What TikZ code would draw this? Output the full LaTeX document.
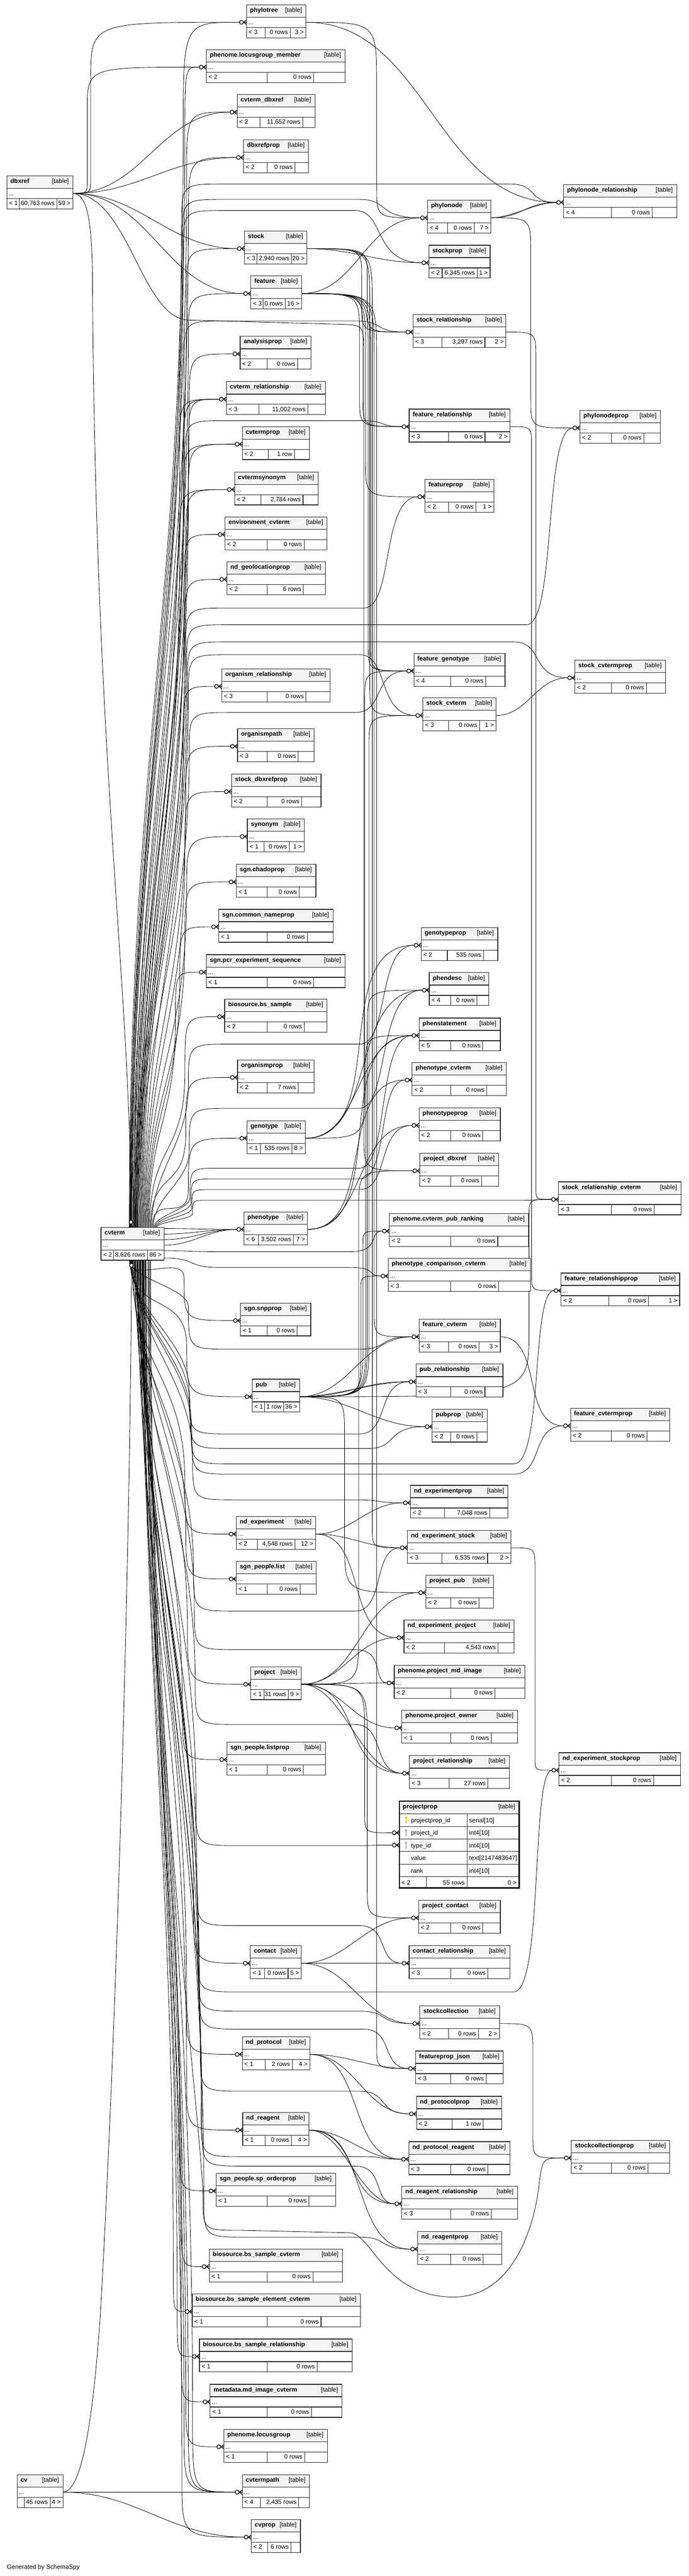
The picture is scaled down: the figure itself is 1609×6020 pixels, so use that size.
\documentclass[tikz,border=0pt]{standalone}
\usepackage{fontspec}
\setmainfont{Liberation Sans}
\usetikzlibrary{calc}
\pgfdeclarelayer{bg}
\pgfdeclarelayer{edges}
\pgfsetlayers{bg,edges,main}
\definecolor{hdr}{RGB}{244,244,244}
\definecolor{bord}{RGB}{40,40,40}
\definecolor{pkkey}{RGB}{225,215,0}
\definecolor{fkkey}{RGB}{185,185,185}
\tikzset{
  edge/.style={line width=1pt,black},
  tl/.style={line width=1.4pt,bord},
  tnode/.style={inner sep=0pt,outer sep=0pt,draw=none},
  txt/.style={inner sep=0pt,font={\fontsize{14.5pt}{17pt}\selectfont}},
  ttl/.style={inner sep=0pt,font={\fontsize{14.5pt}{17pt}\selectfont\bfseries}},
  mk/.style={line width=1.5pt,black},
}
\newcommand\myft[5]{\def\xfL{#1}\def\xfM{#2}\def\xfR{#3}\def\xdA{#4}\def\xdB{#5}}
\newcommand\mytbl[5]{%
  \pgfmathsetmacro\xtw{#4-#2}%
  \node[tnode,minimum width=\xtw pt,minimum height=77pt,anchor=north west] (#1) at (#2,#3) {};
  \coordinate (#1-m) at ([yshift=-41pt]#1.north west);
  \coordinate (#1-l) at ([xshift=-16.5pt,yshift=-41pt]#1.north west);
  \coordinate (#1-r) at ([yshift=-41pt]#1.north east);
  \fill[hdr] (#2,#3) rectangle (#4,{#3+29});
  \fill[white] (#2,{#3+29}) rectangle (#4,{#3+77});
  \draw[tl] (#2,{#3+29}) -- (#4,{#3+29}) (#2,{#3+53}) -- (#4,{#3+53})
     (\xdA,{#3+53}) -- (\xdA,{#3+77}) (\xdB,{#3+53}) -- (\xdB,{#3+77});
  \draw[tl] (#2,#3) rectangle (#4,{#3+77});
  \node[ttl,anchor=base west] (#1-n) at ({#2+8},{#3+17}) {#5};
  \node[txt,anchor=base east] (#1-t) at ({#4-9},{#3+17}) {[table]};
  \node[txt,anchor=base west] (#1-d) at ({#2+4},{#3+46}) {...};
  \node[txt,anchor=base west] (#1-a) at ({#2+5},{#3+69}) {\xfL};
  \node[txt,anchor=base east] (#1-b) at ({\xdB-5},{#3+69}) {\xfM};
  \node[txt,anchor=base east] (#1-c) at ({#4-5},{#3+69}) {\xfR};
}
% simple S edge
\newcommand\xeS[3][]{\draw[edge] (#2-r) to[out=0,in=180,#1] (#3-l);}
% channel edges
\newcommand\xeDn[3]{\draw[edge] let \p1=(#1-r),\p2=(#2-l),
  \n1={max(8,min(0.9*(#3pt-\x1),(\y1-\y2)/3))},
  \n2={max(8,min(0.7*(\x2-#3pt),(\y1-\y2)/3,160))} in
  (\p1) .. controls (#3pt,\y1) .. (#3pt,{\y1-\n1}) -- (#3pt,{\y2+\n2}) .. controls (#3pt,\y2) .. (\p2);}
\newcommand\xeUp[3]{\draw[edge] let \p1=(#1-r),\p2=(#2-l),
  \n1={max(8,min(0.9*(#3pt-\x1),(\y2-\y1)/3))},
  \n2={max(8,min(0.7*(\x2-#3pt),(\y2-\y1)/3,160))} in
  (\p1) .. controls (#3pt,\y1) .. (#3pt,{\y1+\n1}) -- (#3pt,{\y2-\n2}) .. controls (#3pt,\y2) .. (\p2);}
% cvterm up / down
\newcommand\xcU[4]{\draw[edge] let \p1=([xshift=#2pt]cvterm.north west),\p2=(#1-l),
  \n1={0.4*(\y2-\y1)} in
  (\p1) .. controls (\x1,{\y1+\n1}) and (#3pt,{\y2-#4pt-\n1}) .. (#3pt,{\y2-#4pt}) .. controls (#3pt,\y2) .. (\p2);}
\newcommand\xcUR[5]{\draw[edge] let \p1=([xshift=#2pt]cvterm.north west),\p2=(#1-l),
  \n2={min(100,(2868-#4)/2)},
  \n1={0.4*(-#4-\n2-\y1)} in
  (\p1) .. controls (\x1,{\y1+\n1}) and (#3pt,{-#4pt-\n2-\n1}) .. (#3pt,{-#4pt-\n2}) .. controls (#3pt,-#4pt) .. ({#3pt+\n2},-#4pt) -- (#5pt,-#4pt) .. controls ({#5pt+70pt},-#4pt) and ({#5pt+40pt},\y2) .. (\p2);}
\newcommand\xcD[4]{\draw[edge] let \p1=([xshift=#2pt]cvterm.south west),\p2=(#1-l),
  \n1={0.4*(\y1-\y2)} in
  (\p1) .. controls (\x1,{\y1-\n1}) and (#3pt,{\y2+#4pt+\n1}) .. (#3pt,{\y2+#4pt}) .. controls (#3pt,\y2) .. (\p2);}
\newcommand\xcDR[5]{\draw[edge] let \p1=([xshift=#2pt]cvterm.south west),\p2=(#1-l),
  \n2={min(100,(#4-2945)/2)},
  \n1={0.4*(\y1+#4-\n2)} in
  (\p1) .. controls (\x1,{\y1-\n1}) and (#3pt,{-#4pt+\n2+\n1}) .. (#3pt,{-#4pt+\n2}) .. controls (#3pt,-#4pt) .. ({#3pt+\n2},-#4pt) -- (#5pt,-#4pt) .. controls ({#5pt+70pt},-#4pt) and ({#5pt+40pt},\y2) .. (\p2);}
\newcommand\xeH[4]{\draw[edge] let \p1=(#1-r),\p2=(#2-l) in
  (\p1) .. controls ({\x1+80pt},\y1) and ({\x1+50pt},-#3pt) .. ({\x1+130pt},-#3pt) -- (#4pt,-#3pt) .. controls ({#4pt+70pt},-#3pt) and ({#4pt+40pt},\y2) .. (\p2);}
\newcommand\xmk[1]{%
  \draw[mk] ([xshift=-7pt]#1-m) -- ([yshift=5pt]#1-m)
            ([xshift=-7pt]#1-m) -- (#1-m)
            ([xshift=-7pt]#1-m) -- ([yshift=-5pt]#1-m);
  \draw[mk,fill=white] ([xshift=-12pt]#1-m) circle (4.5pt);}
\begin{document}
\begin{tikzpicture}[x=1pt,y=-1pt]
\useasboundingbox (0,0) rectangle (1609,6020);
\begin{pgfonlayer}{bg}
\fill[white] (0,0) rectangle (1609,6020);
\end{pgfonlayer}
% ---------------- tables ----------------
\myft{< 3}{0 rows}{3 >}{619}{678}\mytbl{phylotree}{576}{11}{715}{phylotree}
\myft{< 2}{0 rows}{}{624}{733}\mytbl{locgrpmem}{482}{116}{806}{phenome.locusgroup\_member}
\myft{< 2}{11,652 rows}{}{607}{707}\mytbl{cvtermdbxref}{554}{221}{736}{cvterm\_dbxref}
\myft{< 2}{0 rows}{}{624}{689}\mytbl{dbxrefprop}{569}{327}{721}{dbxrefprop}
\myft{< 1}{60,763 rows}{59 >}{45}{133}\mytbl{dbxref}{16}{411}{170}{dbxref}
\myft{< 4}{0 rows}{}{1429}{1524}\mytbl{phylonoderel}{1317}{432}{1581}{phylonode\_relationship}
\myft{< 4}{0 rows}{7 >}{1046}{1108}\mytbl{phylonode}{999}{468}{1147}{phylonode}
\myft{< 3}{2,940 rows}{20 >}{600}{681}\mytbl{stock}{571}{540}{717}{stock}
\myft{< 2}{6,345 rows}{1 >}{1033}{1115}\mytbl{stockprop}{1002}{573}{1145}{stockprop}
\myft{< 3}{0 rows}{16 >}{615}{666}\mytbl{feature}{586}{645}{705}{feature}
\myft{< 3}{3,297 rows}{2 >}{1032}{1133}\mytbl{stockrel}{965}{735}{1182}{stock\_relationship}
\myft{< 2}{0 rows}{}{624}{695}\mytbl{analysisprop}{561}{786}{727}{analysisprop}
\myft{< 3}{11,002 rows}{}{605}{719}\mytbl{cvtermrel}{529}{892}{760}{cvterm\_relationship}
\myft{< 3}{0 rows}{2 >}{1048}{1133}\mytbl{featurerel}{956}{956}{1191}{feature\_relationship}
\myft{< 2}{0 rows}{}{1429}{1504}\mytbl{phylonodeprop}{1355}{959}{1543}{phylonodeprop}
\myft{< 2}{1 row}{}{627}{688}\mytbl{cvtermprop}{566}{997}{723}{cvtermprop}
\myft{< 2}{2,784 rows}{}{610}{708}\mytbl{cvtermsynonym}{548}{1103}{743}{cvtermsynonym}
\myft{< 2}{0 rows}{1 >}{1048}{1112}\mytbl{featureprop}{993}{1120}{1154}{featureprop}
\myft{< 2}{0 rows}{}{624}{711}\mytbl{envcvterm}{526}{1208}{764}{environment\_cvterm}
\myft{< 2}{6 rows}{}{624}{709}\mytbl{ndgeoprop}{530}{1313}{760}{nd\_geolocationprop}
\myft{< 4}{0 rows}{}{1053}{1135}\mytbl{featgeno}{967}{1527}{1180}{feature\_genotype}
\myft{< 2}{0 rows}{}{1429}{1510}\mytbl{stockcvtermprop}{1343}{1543}{1555}{stock\_cvtermprop}
\myft{< 3}{0 rows}{}{624}{715}\mytbl{orgrel}{518}{1563}{771}{organism\_relationship}
\myft{< 3}{0 rows}{1 >}{1048}{1120}\mytbl{stockcvterm}{988}{1631}{1159}{stock\_cvterm}
\myft{< 3}{0 rows}{}{624}{697}\mytbl{organismpath}{555}{1703}{734}{organismpath}
\myft{< 2}{0 rows}{}{624}{705}\mytbl{stockdbxrefprop}{541}{1809}{750}{stock\_dbxrefprop}
\myft{< 1}{0 rows}{1 >}{617}{676}\mytbl{synonym}{578}{1914}{711}{synonym}
\myft{< 1}{0 rows}{}{624}{699}\mytbl{chadoprop}{552}{2020}{738}{sgn.chadoprop}
\myft{< 1}{0 rows}{}{624}{718}\mytbl{commonnameprop}{511}{2125}{778}{sgn.common\_nameprop}
\myft{< 1}{0 rows}{}{624}{733}\mytbl{pcrexpseq}{482}{2231}{806}{sgn.pcr\_experiment\_sequence}
\myft{< 2}{535 rows}{}{1045}{1130}\mytbl{genotypeprop}{984}{2168}{1163}{genotypeprop}
\myft{< 4}{0 rows}{}{1053}{1114}\mytbl{phendesc}{1003}{2273}{1142}{phendesc}
\myft{< 2}{0 rows}{}{624}{711}\mytbl{bssample}{525}{2335}{764}{biosource.bs\_sample}
\myft{< 5}{0 rows}{}{1053}{1128}\mytbl{phenstatement}{979}{2379}{1169}{phenstatement}
\myft{< 2}{7 rows}{}{624}{697}\mytbl{organismprop}{555}{2477}{734}{organismprop}
\myft{< 2}{0 rows}{}{1053}{1137}\mytbl{phenotypecvterm}{963}{2483}{1183}{phenotype\_cvterm}
\myft{< 1}{535 rows}{8 >}{609}{682}\mytbl{genotype}{577}{2619}{713}{genotype}
\myft{< 2}{0 rows}{}{1053}{1128}\mytbl{phenotypeprop}{979}{2589}{1169}{phenotypeprop}
\myft{< 2}{0 rows}{}{1053}{1125}\mytbl{projectdbxref}{981}{2695}{1165}{project\_dbxref}
\myft{< 3}{0 rows}{}{1429}{1528}\mytbl{stockrelcvterm}{1305}{2762}{1591}{stock\_relationship\_cvterm}
\myft{< 6}{3,502 rows}{7 >}{604}{686}\mytbl{phenotype}{570}{2832}{718}{phenotype}
\myft{< 2}{8,626 rows}{86 >}{265}{345}\mytbl{cvterm}{236}{2868}{383}{cvterm}
\myft{< 2}{0 rows}{}{1053}{1163}\mytbl{cvtermpubrank}{910}{2836}{1235}{phenome.cvterm\_pub\_ranking}
\myft{< 3}{0 rows}{}{1053}{1165}\mytbl{phenocompcvterm}{907}{2941}{1239}{phenotype\_comparison\_cvterm}
\myft{< 2}{0 rows}{1 >}{1423}{1515}\mytbl{featurerelprop}{1311}{2975}{1588}{feature\_relationshipprop}
\myft{< 1}{0 rows}{}{624}{694}\mytbl{snpprop}{562}{3045}{726}{sgn.snpprop}
\myft{< 3}{0 rows}{3 >}{1048}{1119}\mytbl{featurecvterm}{979}{3083}{1169}{feature\_cvterm}
\myft{< 3}{0 rows}{}{1053}{1133}\mytbl{pubrel}{972}{3188}{1175}{pub\_relationship}
\myft{< 1}{1 row}{36 >}{618}{663}\mytbl{pub}{589}{3223}{700}{pub}
\myft{< 2}{0 rows}{}{1053}{1114}\mytbl{pubprop}{1010}{3293}{1138}{pubprop}
\myft{< 2}{0 rows}{}{1429}{1512}\mytbl{featurecvtermprop}{1333}{3291}{1565}{feature\_cvtermprop}
\myft{< 2}{7,048 rows}{}{1038}{1144}\mytbl{ndexpprop}{959}{3471}{1187}{nd\_experimentprop}
\myft{< 2}{4,548 rows}{12 >}{601}{689}\mytbl{ndexp}{552}{3544}{737}{nd\_experiment}
\myft{< 3}{6,535 rows}{2 >}{1032}{1139}\mytbl{ndexpstock}{952}{3576}{1194}{nd\_experiment\_stock}
\myft{< 1}{0 rows}{}{624}{701}\mytbl{peoplelist}{552}{3649}{739}{sgn\_people.list}
\myft{< 2}{0 rows}{}{1053}{1119}\mytbl{projectpub}{995}{3681}{1153}{project\_pub}
\myft{< 2}{4,543 rows}{}{1038}{1164}\mytbl{ndexpproject}{944}{3786}{1201}{nd\_experiment\_project}
\myft{< 1}{31 rows}{9 >}{617}{674}\mytbl{project}{586}{3895}{704}{project}
\myft{< 2}{0 rows}{}{1053}{1156}\mytbl{projectmdimage}{921}{3892}{1226}{phenome.project\_md\_image}
\myft{< 1}{0 rows}{}{1053}{1148}\mytbl{projectowner}{939}{3997}{1209}{phenome.project\_owner}
\myft{< 1}{0 rows}{}{624}{709}\mytbl{listprop}{530}{4071}{760}{sgn\_people.listprop}
\myft{< 3}{27 rows}{}{1049}{1140}\mytbl{projectrel}{957}{4103}{1190}{project\_relationship}
\myft{< 2}{0 rows}{}{1429}{1527}\mytbl{ndexpstockprop}{1306}{4096}{1590}{nd\_experiment\_stockprop}
\myft{< 2}{0 rows}{}{1053}{1128}\mytbl{projectcontact}{978}{4441}{1169}{project\_contact}
\myft{< 1}{0 rows}{5 >}{618}{673}\mytbl{contact}{585}{4547}{704}{contact}
\myft{< 3}{0 rows}{}{1053}{1140}\mytbl{contactrel}{956}{4547}{1191}{contact\_relationship}
\myft{< 2}{0 rows}{2 >}{1048}{1118}\mytbl{stockcollection}{981}{4688}{1167}{stockcollection}
\myft{< 1}{2 rows}{4 >}{619}{683}\mytbl{ndprotocol}{566}{4760}{724}{nd\_protocol}
\myft{< 3}{0 rows}{}{1053}{1136}\mytbl{featurepropjson}{971}{4793}{1176}{featureprop\_json}
\myft{< 2}{1 row}{}{1056}{1129}\mytbl{ndprotocolprop}{973}{4899}{1172}{nd\_protocolprop}
\myft{< 1}{0 rows}{4 >}{619}{681}\mytbl{ndreagent}{567}{4937}{722}{nd\_reagent}
\myft{< 3}{0 rows}{}{1053}{1140}\mytbl{ndprotreagent}{955}{5005}{1191}{nd\_protocol\_reagent}
\myft{< 2}{0 rows}{}{1429}{1514}\mytbl{stockcollprop}{1335}{5002}{1565}{stockcollectionprop}
\myft{< 1}{0 rows}{}{624}{722}\mytbl{sporderprop}{505}{5079}{784}{sgn\_people.sp\_orderprop}
\myft{< 3}{0 rows}{}{1053}{1148}\mytbl{ndreagentrel}{939}{5109}{1209}{nd\_reagent\_relationship}
\myft{< 2}{0 rows}{}{1053}{1129}\mytbl{ndreagentprop}{976}{5215}{1172}{nd\_reagentprop}
\myft{< 1}{0 rows}{}{624}{731}\mytbl{bssamplecvterm}{489}{5256}{800}{biosource.bs\_sample\_cvterm}
\myft{< 1}{0 rows}{}{624}{750}\mytbl{bssampleelem}{449}{5361}{842}{biosource.bs\_sample\_element\_cvterm}
\myft{< 1}{0 rows}{}{624}{741}\mytbl{bssamplerel}{466}{5466}{823}{biosource.bs\_sample\_relationship}
\myft{< 1}{0 rows}{}{624}{728}\mytbl{mdimagecvterm}{491}{5572}{799}{metadata.md\_image\_cvterm}
\myft{< 1}{0 rows}{}{624}{712}\mytbl{locusgroup}{523}{5677}{765}{phenome.locusgroup}
\myft{}{45 rows}{4 >}{57}{117}\mytbl{cv}{40}{5783}{147}{cv}
\myft{< 4}{2,435 rows}{}{609}{698}\mytbl{cvtermpath}{566}{5783}{723}{cvtermpath}
\myft{< 2}{6 rows}{}{625}{680}\mytbl{cvprop}{587}{5888}{702}{cvprop}
% ---------------- projectprop (detailed) ----------------
\node[tnode,minimum width=280pt,minimum height=203pt,anchor=north west] (projectprop) at (933,4209) {};
\coordinate (projectprop-m) at (933,4283);
\coordinate (projectprop-l) at (916.5,4283);
\coordinate (projectprop2-m) at (933,4312);
\coordinate (projectprop2-l) at (916.5,4312);
\fill[hdr] (933,4209) rectangle (1213,4239);
\fill[white] (933,4239) rectangle (1213,4412);
\draw[tl] (933,4239) -- (1213,4239) (933,4268.5) -- (1213,4268.5) (933,4298) -- (1213,4298)
  (933,4327) -- (1213,4327) (933,4356.5) -- (1213,4356.5) (933,4386) -- (1213,4386)
  (1091,4239) -- (1091,4412) (996,4386) -- (996,4412);
\draw[line width=3pt,black] (933,4209) rectangle (1213,4412);
\node[ttl,anchor=base west] (pp-n) at (941,4226) {projectprop};
\node[txt,anchor=base east] (pp-t) at (1204,4226) {[table]};
\node[txt,anchor=base west] (pp-c1) at (960,4259) {projectprop\_id};
\node[txt,anchor=base west] (pp-y1) at (1096,4259) {serial[10]};
\node[txt,anchor=base west] (pp-c2) at (960,4288.5) {project\_id};
\node[txt,anchor=base west] (pp-y2) at (1096,4288.5) {int4[10]};
\node[txt,anchor=base west] (pp-c3) at (960,4318) {type\_id};
\node[txt,anchor=base west] (pp-y3) at (1096,4318) {int4[10]};
\node[txt,anchor=base west] (pp-c4) at (960,4347) {value};
\node[txt,anchor=base west] (pp-y4) at (1096,4347) {text[2147483647]};
\node[txt,anchor=base west] (pp-c5) at (960,4376.5) {rank};
\node[txt,anchor=base west] (pp-y5) at (1096,4376.5) {int4[10]};
\node[txt,anchor=base west] (pp-a) at (938,4405) {< 2};
\node[txt,anchor=base east] (pp-b) at (1086,4405) {55 rows};
\node[txt,anchor=base east] (pp-cc) at (1207,4405) {0 >};
\fill[pkkey] (948.5,4248) circle (3pt);
\draw[pkkey,line width=1.8pt] (948.5,4250) -- (948.5,4262) (948.5,4258) -- (951.5,4258);
\fill[fkkey] (948.5,4277.5) circle (3pt);
\draw[fkkey,line width=1.8pt] (948.5,4279.5) -- (948.5,4291.5) (948.5,4287.5) -- (951.5,4287.5);
\fill[fkkey] (948.5,4307) circle (3pt);
\draw[fkkey,line width=1.8pt] (948.5,4309) -- (948.5,4321) (948.5,4317) -- (951.5,4317);
\node[txt,anchor=west] (gen) at (16,6000) {Generated by SchemaSpy};
% cvterm special points
\coordinate (cvterm-top) at ([xshift=70pt,yshift=16.5pt]cvterm.north west);
\coordinate (cvterm-bot) at ([xshift=71pt,yshift=-16.5pt]cvterm.south west);
\coordinate (cvA-r) at ([yshift=-3pt]cvterm.north east);
\coordinate (cvB-r) at ([yshift=-16pt]cvterm.north east);
\coordinate (cvC-r) at ([yshift=-29pt]cvterm.north east);
\coordinate (cvD-r) at ([yshift=-42pt]cvterm.north east);
\coordinate (cvE-r) at ([yshift=-55pt]cvterm.north east);
\coordinate (cvF-r) at ([yshift=-72pt]cvterm.north east);
% ---------------- edges ----------------
\begin{pgfonlayer}{edges}
% dbxref
\xeUp{dbxref}{phylotree}{212}
\xeUp{dbxref}{locgrpmem}{204}
\xeS{dbxref}{cvtermdbxref}
\xeS{dbxref}{dbxrefprop}
\xeS{dbxref}{stock}
\xeS{dbxref}{feature}
\draw[edge] (dbxref-r) .. controls (205,452) and (214,520) .. (216,640) .. controls (222,1800) and (306,2300) .. (cvterm-top);
\draw[edge] (dbxref-r) .. controls (300,452) and (330,745) .. (440,748) -- (800,758) .. controls (850,760) .. (850,830) -- (850,2650) .. controls (850,2736) .. (projectdbxref-l);
% phylo
\xeS{phylotree}{phylonoderel}
\xeDn{phylotree}{phylonode}{880}
\xeS[looseness=0.8]{phylonode}{phylonoderel}
\xeS[looseness=1.2]{phylonode}{phylonoderel}
\xeDn{phylonode}{phylonodeprop}{1240}
% stock
\xeS{stock}{stockprop}
\xeDn{stock}{stockrel}{845}
\xeDn{stock}{stockrel}{858}
\xeDn{stock}{stockcvterm}{864}
\xeDn{stock}{ndexpstock}{870}
% feature
\xeS{feature}{phylonode}
\xeDn{feature}{featurerel}{840}
\xeDn{feature}{featurerel}{848}
\xeDn{feature}{featureprop}{854}
\xeDn{feature}{featgeno}{860}
\xeDn{feature}{featgeno}{866}
\xeDn{feature}{featurecvterm}{874}
\xeDn{feature}{featurepropjson}{880}
% misc
\xeDn{stockrel}{stockrelcvterm}{1252}
\xeDn{featurerel}{featurerelprop}{1242}
\xeS{stockcvterm}{stockcvtermprop}
\xeS{genotype}{genotypeprop}
\xeS{genotype}{phendesc}
\xeS{genotype}{phenstatement}
\xeUp{genotype}{featgeno}{852}
\xeS{phenotype}{phenstatement}
\xeS{phenotype}{phenotypecvterm}
\xeS{phenotype}{phenotypeprop}
% pub
\xeUp{pub}{stockcvterm}{862}
\xeUp{pub}{phendesc}{858}
\xeUp{pub}{phenstatement}{854}
\xeUp{pub}{stockrelcvterm}{1236}
\xeUp{pub}{cvtermpubrank}{848}
\xeUp{pub}{phenocompcvterm}{843}
\xeS{pub}{featurecvterm}
\xeS[looseness=0.8]{pub}{pubrel}
\xeS[looseness=1.2]{pub}{pubrel}
\xeS{pub}{pubprop}
\xeDn{pub}{projectpub}{805}
% nd_experiment
\xeS{ndexp}{ndexpprop}
\xeS{ndexp}{ndexpstock}
\xeS{ndexp}{ndexpproject}
\xeDn{ndexpstock}{ndexpstockprop}{1250}
% project
\xeUp{project}{projectdbxref}{838}
\xeS{project}{projectpub}
\xeS{project}{ndexpproject}
\xeS{project}{projectmdimage}
\xeS{project}{projectowner}
\xeS[looseness=0.8]{project}{projectrel}
\xeS[looseness=1.2]{project}{projectrel}
\xeDn{project}{projectprop}{852}
\xeDn{project}{projectcontact}{858}
% contact
\xeS{contact}{projectcontact}
\xeS[looseness=0.8]{contact}{contactrel}
\xeS[looseness=1.2]{contact}{contactrel}
\xeS{contact}{stockcollection}
\xeDn{stockcollection}{stockcollprop}{1245}
\xeS{featurecvterm}{featurecvtermprop}
% protocol / reagent
\xeS{ndprotocol}{featurepropjson}
\xeS{ndprotocol}{ndprotocolprop}
\xeS{ndprotocol}{ndprotreagent}
\xeS{ndreagent}{ndprotreagent}
\xeS[looseness=0.8]{ndreagent}{ndreagentrel}
\xeS[looseness=1.2]{ndreagent}{ndreagentrel}
\xeS{ndreagent}{ndreagentprop}
% cv
\draw[edge] (cv-r) .. controls (185,5824) and (215,5700) .. (235,5400) .. controls (280,4600) and (307,3400) .. (cvterm-bot);
\xeS{cv}{cvtermpath}
\xeS{cv}{cvprop}
% cvterm right side
\xeS{cvA}{phenotype}
\xeS{cvB}{phenotype}
\xeS{cvC}{phenotype}
\xeS{cvD}{phenotype}
\xeH{cvE}{cvtermpubrank}{2925}{820}
\xeH{cvF}{phenocompcvterm}{2962}{815}
% cvterm up, left column
\xcU{phylotree}{66}{428}{260}
\xcU{locgrpmem}{68}{432}{160}
\xcU{cvtermdbxref}{70}{436}{150}
\xcU{dbxrefprop}{72}{440}{150}
\xcU{stock}{76}{436}{100}
\xcU{feature}{78}{440}{100}
\xcU{analysisprop}{80}{442}{130}
\xcU{cvtermrel}{82}{420}{110}
\xcU{cvtermrel}{84}{430}{125}
\xcU{cvtermrel}{86}{440}{140}
\xcU{cvtermprop}{88}{428}{120}
\xcU{cvtermprop}{90}{440}{135}
\xcU{cvtermsynonym}{92}{420}{120}
\xcU{cvtermsynonym}{94}{434}{135}
\xcU{envcvterm}{96}{430}{130}
\xcU{ndgeoprop}{98}{432}{130}
\xcU{orgrel}{100}{428}{130}
\xcU{organismpath}{102}{434}{130}
\xcU{stockdbxrefprop}{104}{432}{130}
\xcU{synonym}{106}{436}{130}
\xcU{chadoprop}{108}{432}{130}
\xcU{commonnameprop}{110}{420}{120}
\xcU{pcrexpseq}{112}{410}{110}
\xcU{bssample}{114}{432}{130}
\xcU{organismprop}{116}{434}{130}
\xcU{genotype}{120}{440}{120}
% cvterm up, right column
\xcUR{phylonoderel}{67}{424}{430}{1190}
\xcUR{phylonode}{69}{426}{466}{840}
\xcUR{stockprop}{71}{428}{492}{830}
\xcUR{stockrel}{73}{430}{750}{830}
\xcUR{featurerel}{75}{432}{983}{840}
\xcUR{featureprop}{77}{434}{1421}{850}
\xcUR{phylonodeprop}{79}{436}{1460}{1230}
\xcUR{stockcvtermprop}{81}{438}{1500}{1200}
\xcUR{stockcvterm}{83}{440}{1530}{840}
\xcUR{featgeno}{85}{442}{1665}{830}
\xcUR{genotypeprop}{118}{440}{2440}{840}
\xcUR{phendesc}{122}{442}{2590}{840}
\xcUR{phenstatement}{124}{444}{2730}{840}
\xcUR{phenotypecvterm}{126}{446}{2755}{840}
\xcUR{phenotypeprop}{128}{448}{2780}{840}
\xcUR{stockrelcvterm}{130}{450}{2805}{1200}
% cvterm down, left column
\xcD{snpprop}{66}{430}{100}
\xcD{pub}{68}{436}{120}
\xcD{ndexp}{72}{432}{120}
\xcD{peoplelist}{74}{434}{120}
\xcD{project}{78}{438}{130}
\xcD{listprop}{80}{426}{120}
\xcD{contact}{84}{452}{140}
\xcD{ndprotocol}{86}{436}{120}
\xcD{ndreagent}{90}{436}{120}
\xcD{sporderprop}{92}{420}{110}
\xcD{bssamplecvterm}{96}{424}{110}
\xcD{bssampleelem}{98}{405}{90}
\xcD{bssamplerel}{100}{414}{100}
\xcD{mdimagecvterm}{104}{424}{110}
\xcD{locusgroup}{106}{434}{120}
\xcD{cvtermpath}{110}{430}{150}
\xcD{cvtermpath}{112}{440}{160}
\xcD{cvtermpath}{114}{450}{170}
\xcD{cvprop}{116}{425}{140}
% cvterm down, right column
\xcDR{featurecvterm}{67}{440}{3153}{840}
\xcDR{pubrel}{69}{442}{3351}{840}
\xcDR{pubprop}{71}{444}{3385}{860}
\xcDR{featurerelprop}{73}{446}{3421}{1200}
\xcDR{featurecvtermprop}{75}{448}{3445}{1200}
\xcDR{ndexpprop}{77}{450}{3505}{830}
\xcDR{ndexpstock}{79}{452}{3765}{830}
\xcDR{projectmdimage}{81}{454}{3855}{830}
\xcDR{projectrel}{83}{456}{4030}{830}
\xcDR{projectprop2}{85}{458}{4313}{820}
\xcDR{contactrel}{87}{460}{4500}{840}
\xcDR{ndexpstockprop}{89}{462}{4655}{1200}
\xcDR{stockcollection}{91}{464}{4700}{840}
\xcDR{featurepropjson}{93}{466}{4742}{850}
\xcDR{ndprotocolprop}{95}{468}{4887}{840}
\xcDR{ndprotreagent}{97}{470}{5040}{840}
\xcDR{ndreagentrel}{99}{472}{5062}{830}
\xcDR{ndreagentprop}{103}{476}{5228}{840}
\draw[edge] ([xshift=101pt]cvterm.south west) .. controls (337,3900) and (474,5000) .. (474,5130) .. controls (474,5212) .. (560,5212) -- (820,5218) .. controls (870,5225) and (900,5368) .. (1060,5368) .. controls (1200,5368) and (1250,5200) .. (1260,5100) .. controls (1268,5043) .. (stockcollprop-l);
\end{pgfonlayer}
% ---------------- markers ----------------
\foreach \tn in {phylotree,locgrpmem,cvtermdbxref,dbxrefprop,phylonoderel,phylonode,stock,stockprop,feature,stockrel,analysisprop,cvtermrel,featurerel,phylonodeprop,cvtermprop,cvtermsynonym,featureprop,envcvterm,ndgeoprop,featgeno,stockcvtermprop,orgrel,stockcvterm,organismpath,stockdbxrefprop,synonym,chadoprop,commonnameprop,pcrexpseq,genotypeprop,phendesc,bssample,phenstatement,organismprop,phenotypecvterm,genotype,phenotypeprop,projectdbxref,stockrelcvterm,phenotype,cvtermpubrank,phenocompcvterm,featurerelprop,snpprop,featurecvterm,pubrel,pub,pubprop,featurecvtermprop,ndexpprop,ndexp,ndexpstock,peoplelist,projectpub,ndexpproject,project,projectmdimage,projectowner,listprop,projectrel,ndexpstockprop,projectprop,projectprop2,projectcontact,contact,contactrel,stockcollection,ndprotocol,featurepropjson,ndprotocolprop,ndreagent,ndprotreagent,stockcollprop,sporderprop,ndreagentrel,ndreagentprop,bssamplecvterm,bssampleelem,bssamplerel,mdimagecvterm,locusgroup,cvtermpath,cvprop}{\xmk{\tn}}
% vertical markers on cvterm
\draw[mk] ([xshift=70pt,yshift=7pt]cvterm.north west) -- ([xshift=65pt]cvterm.north west)
  ([xshift=70pt,yshift=7pt]cvterm.north west) -- ([xshift=70pt]cvterm.north west)
  ([xshift=70pt,yshift=7pt]cvterm.north west) -- ([xshift=75pt]cvterm.north west);
\draw[mk,fill=white] ([xshift=70pt,yshift=12pt]cvterm.north west) circle (4.5pt);
\draw[mk] ([xshift=71pt,yshift=-7pt]cvterm.south west) -- ([xshift=66pt]cvterm.south west)
  ([xshift=71pt,yshift=-7pt]cvterm.south west) -- ([xshift=71pt]cvterm.south west)
  ([xshift=71pt,yshift=-7pt]cvterm.south west) -- ([xshift=76pt]cvterm.south west);
\draw[mk,fill=white] ([xshift=71pt,yshift=-12pt]cvterm.south west) circle (4.5pt);
\end{tikzpicture}
\end{document}
